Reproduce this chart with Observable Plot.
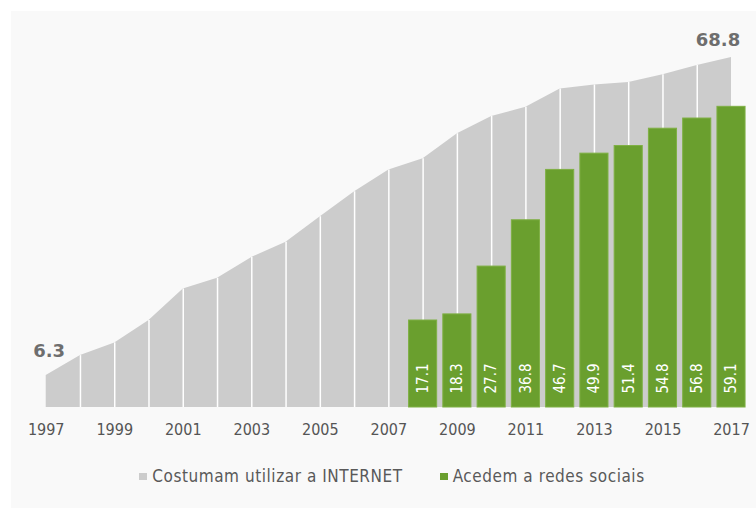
<!DOCTYPE html>
<html>
<head>
<meta charset="utf-8">
<script src="https://cdn.jsdelivr.net/npm/d3@7"></script>
<script src="https://cdn.jsdelivr.net/npm/@observablehq/plot@0.6"></script>
<style>
  html, body { margin: 0; padding: 0; background: #ffffff; }
  #wrap { position: relative; width: 756px; height: 511px; overflow: hidden; }
  #panel { position: absolute; left: 11px; top: 11px; right: 0; bottom: 3px; background: #f9f9f9; }
  #chart { position: absolute; left: 0; top: 0; }
  #legend { position: absolute; left: 0; top: 465px; width: 756px; height: 22px; display: flex; justify-content: center;
            padding-left: 28px; box-sizing: border-box; gap: 37px; line-height: 22px;
            font-family: "DejaVu Sans Condensed", "DejaVu Sans", sans-serif; font-size: 17px; letter-spacing: 0.55px; color: #595959; }
  .item { display: flex; align-items: center; }
  .sw { width: 8px; height: 7px; margin-right: 5px; display: inline-block; }
</style>
</head>
<body>
<div id="wrap">
  <div id="panel"></div>
  <div id="chart"></div>
  <div id="legend"></div>
</div>
<script>
const internetYears = [1997,1998,1999,2000,2001,2002,2003,2004,2005,2006,2007,2008,2009,2010,2011,2012,2013,2014,2015,2016,2017];
const internetValues = [6.3,10.2,12.7,17.1,23.3,25.4,29.5,32.5,37.5,42.4,46.7,48.9,53.8,57.2,59.0,62.6,63.4,63.9,65.4,67.2,68.8];
const socialYears = [2008,2009,2010,2011,2012,2013,2014,2015,2016,2017];
const socialValues = [17.1,18.3,27.7,36.8,46.7,49.9,51.4,54.8,56.8,59.1];
const tickYears = [1997,1999,2001,2003,2005,2007,2009,2011,2013,2015,2017];
const seriesNames = ["Costumam utilizar a INTERNET", "Acedem a redes sociais"];
const seriesColors = ["#cccccc", "#6a9f2e"];

const internet = internetYears.map((y, i) => ({year: y, value: internetValues[i]}));
const social = socialYears.map((y, i) => ({year: y, value: socialValues[i]}));
const firstPt = [internet[0]];
const lastPt = [internet[internet.length - 1]];
const half = 0.41;

const chart = Plot.plot({
  width: 756,
  height: 445,
  marginLeft: 45.7,
  marginRight: 25,
  marginTop: 0,
  marginBottom: 38,
  style: {background: "transparent", fontFamily: "DejaVu Sans Condensed, DejaVu Sans, sans-serif", fontSize: "16px", color: "#555555"},
  x: {domain: [1997, 2017]},
  y: {domain: [0, 80], axis: null},
  marks: [
    Plot.areaY(internet, {x: "year", y: "value", fill: seriesColors[0], curve: "linear"}),
    Plot.ruleX(internet.slice(1, -1), {x: "year", y1: 0, y2: "value", stroke: "#ffffff", strokeWidth: 1.5}),
    Plot.rectY(social, {x1: d => d.year - half, x2: d => d.year + half, y1: 0, y2: "value", fill: seriesColors[1], stroke: "#7fb044", strokeWidth: 1}),
    Plot.text(social, {x: "year", y: 0, text: d => d.value.toFixed(1), rotate: -90, textAnchor: "start", dy: -14, fill: "#ffffff", fontSize: 15}),
    Plot.text(firstPt, {x: "year", y: "value", text: d => d.value.toFixed(1), dy: -24, dx: 3, fill: "#6e6e6e", fontSize: 18, fontWeight: "bold", fontFamily: "DejaVu Sans"}),
    Plot.text(lastPt, {x: "year", y: "value", text: d => d.value.toFixed(1), dy: -17, dx: -13.5, fill: "#6e6e6e", fontSize: 18, fontWeight: "bold", fontFamily: "DejaVu Sans"}),
    Plot.axisX({ticks: tickYears, tickFormat: d => String(d), tickSize: 0, tickPadding: 16, label: null})
  ]
});
document.getElementById("chart").appendChild(chart);

const legend = document.getElementById("legend");
seriesNames.forEach((name, i) => {
  const it = document.createElement("div");
  it.className = "item";
  const sw = document.createElement("span");
  sw.className = "sw";
  sw.style.background = seriesColors[i];
  it.appendChild(sw);
  it.appendChild(document.createTextNode(name));
  legend.appendChild(it);
});
</script>
</body>
</html>
